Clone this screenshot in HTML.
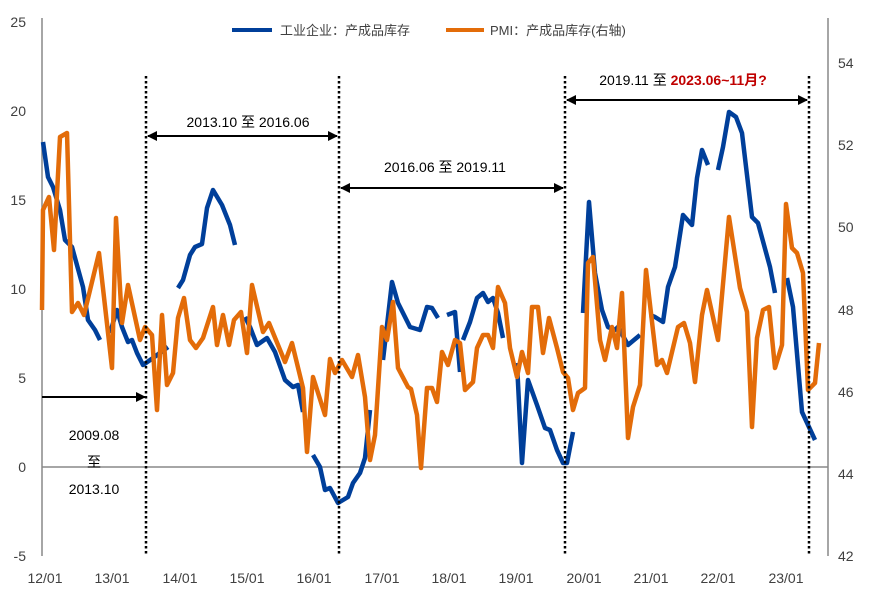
<!DOCTYPE html>
<html><head><meta charset="utf-8"><style>
body{margin:0;background:#fff;}
svg text{font-family:"Liberation Sans","Noto Sans CJK SC",sans-serif;fill:#404040;}
</style></head><body>
<svg width="869" height="604" viewBox="0 0 869 604" xmlns="http://www.w3.org/2000/svg">
<defs>
<marker id="ah" markerWidth="10" markerHeight="10" refX="9" refY="5" orient="auto-start-reverse" markerUnits="userSpaceOnUse"><path d="M0,0 L10,5 L0,10 Z" fill="#000"/></marker>
</defs>
<!-- axes -->
<line x1="42" y1="18" x2="42" y2="556" stroke="#888" stroke-width="1.5"/>
<line x1="828" y1="18" x2="828" y2="556" stroke="#888" stroke-width="1.5"/>
<line x1="42" y1="467" x2="828" y2="467" stroke="#888" stroke-width="1.5"/>
<g font-size="14" text-anchor="end">
<text x="26" y="27">25</text><text x="26" y="116">20</text><text x="26" y="205">15</text><text x="26" y="294">10</text><text x="26" y="383">5</text><text x="26" y="472">0</text><text x="26" y="561">-5</text>
</g>
<g font-size="14" text-anchor="start">
<text x="838" y="68">54</text><text x="838" y="150">52</text><text x="838" y="232">50</text><text x="838" y="315">48</text><text x="838" y="397">46</text><text x="838" y="479">44</text><text x="838" y="561">42</text>
</g>
<g font-size="14" text-anchor="middle">
<text x="45" y="583">12/01</text><text x="112" y="583">13/01</text><text x="180" y="583">14/01</text><text x="247" y="583">15/01</text><text x="314" y="583">16/01</text><text x="382" y="583">17/01</text><text x="449" y="583">18/01</text><text x="516" y="583">19/01</text><text x="584" y="583">20/01</text><text x="651" y="583">21/01</text><text x="718" y="583">22/01</text><text x="786" y="583">23/01</text>
</g>
<!-- legend -->
<line x1="232" y1="30" x2="272" y2="30" stroke="#003f9a" stroke-width="4"/>
<text x="280" y="35" font-size="13">工业企业：产成品库存</text>
<line x1="446" y1="30" x2="484" y2="30" stroke="#e36c09" stroke-width="4"/>
<text x="490" y="35" font-size="13">PMI：产成品库存(右轴)</text>
<!-- series -->
<g fill="none" stroke="#003f9a" stroke-width="4.5" stroke-linejoin="round">
<polyline points="43,142 48,177 53,187 60,210 65,240 72,247 83,287 88,320 95,330 100,340"/>
<polyline points="110,333 117,310 122,327 128,342 132,340 137,353 143,365 153,358 168,347"/>
<polyline points="178,288 183,280 190,255 195,247 202,244 207,208 213,190 222,205 230,225 235,245"/>
<polyline points="245,317 250,327 257,345 267,338 275,352 285,380 293,387 298,385 303,412"/>
<polyline points="313,455 320,467 325,490 330,488 338,503 348,497 353,483 360,473 365,458 370,410"/>
<polyline points="383,360 392,282 398,303 410,327 420,330 427,307 432,308 438,318"/>
<polyline points="447,315 455,312 460,372"/>
<polyline points="463,340 470,322 477,298 483,293 488,302 493,298 498,313 503,338"/>
<polyline points="517,363 522,463 528,380 537,405 545,428 550,430 557,450 563,463 567,463 573,432"/>
<polyline points="583,313 589,202 595,273 602,310 608,327 615,330 618,327 628,345 640,335"/>
<polyline points="650,315 655,317 663,322 668,287 675,267 683,215 692,225 697,178 702,150 708,165"/>
<polyline points="718,170 723,147 729,112 736,117 742,133 752,217 758,223 770,267 775,293"/>
<polyline points="787,278 793,307 802,412 815,440"/>
</g>
<polyline fill="none" stroke="#e36c09" stroke-width="4.5" stroke-linejoin="round" points="42,310 43,210 49,197 54,250 60,137 67,133 72,312 78,303 84,315 99,253 112,368 116,218 122,323 128,285 140,340 145,327 152,335 157,410 162,315 167,385 173,373 178,318 184,298 190,340 196,348 203,338 213,307 217,345 223,315 229,345 234,320 241,312 247,353 252,285 263,332 269,323 285,362 292,343 303,388 307,452 313,377 325,415 330,359 335,373 342,360 352,377 358,355 365,397 370,460 375,435 382,327 387,340 393,302 398,368 408,387 411,389 417,415 421,468 427,388 432,388 437,402 442,352 448,365 455,340 460,343 465,390 473,382 477,348 483,335 488,335 493,348 498,287 505,303 510,348 517,377 522,352 528,373 532,307 538,307 543,353 549,318 557,348 563,372 568,378 573,410 578,393 585,388 588,263 593,257 600,340 605,360 612,327 617,348 622,293 628,438 633,407 640,385 646,270 657,365 662,360 667,373 678,327 684,323 690,343 695,382 702,315 707,290 718,340 729,217 740,288 747,312 752,427 757,338 763,310 769,307 775,368 782,345 786,204 792,248 797,253 803,273 808,390 815,383 819,343"/>
<!-- dotted verticals -->
<g stroke="#000" stroke-width="2.5" stroke-dasharray="2.5,2.5">
<line x1="146" y1="76" x2="146" y2="556"/>
<line x1="339" y1="76" x2="339" y2="556"/>
<line x1="565" y1="76" x2="565" y2="556"/>
<line x1="809" y1="76" x2="809" y2="556"/>
</g>
<!-- arrows -->
<g stroke="#000" stroke-width="2">
<line x1="42" y1="397" x2="145" y2="397" marker-end="url(#ah)"/>
<line x1="148" y1="136" x2="337" y2="136" marker-start="url(#ah)" marker-end="url(#ah)"/>
<line x1="341" y1="188" x2="563" y2="188" marker-start="url(#ah)" marker-end="url(#ah)"/>
<line x1="567" y1="100" x2="807" y2="100" marker-start="url(#ah)" marker-end="url(#ah)"/>
</g>
<g font-size="14" text-anchor="middle">
<text x="94" y="440" style="fill:#000">2009.08</text>
<text x="94" y="467" style="fill:#000">至</text>
<text x="94" y="494" style="fill:#000">2013.10</text>
<text x="248" y="127" style="fill:#000">2013.10 至 2016.06</text>
<text x="445" y="172" style="fill:#000">2016.06 至 2019.11</text>
<text x="683" y="85" style="fill:#000">2019.11 至 <tspan style="fill:#c00000;font-weight:bold">2023.06~11月?</tspan></text>
</g>
</svg>
</body></html>
